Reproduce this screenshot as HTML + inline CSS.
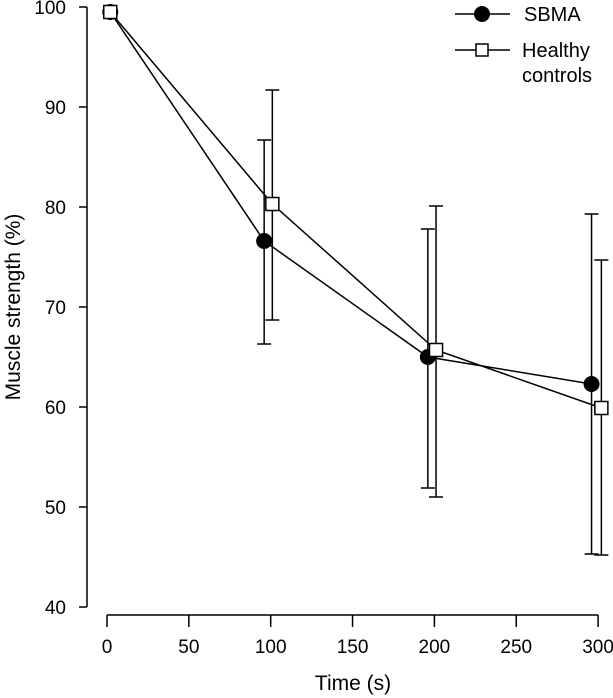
<!DOCTYPE html>
<html><head><meta charset="utf-8"><style>
body{margin:0;background:#fff}
svg{display:block;font-family:"Liberation Sans",Arial,sans-serif}
</style></head><body>
<svg id="chart" width="613" height="698" viewBox="0 0 613 698">
<g id="axes"></g><g id="series"></g>
<g>
 <g>
  <line x1="455" y1="14" x2="510" y2="14" stroke="#000" stroke-width="1.5"/>
  <circle cx="482" cy="14" r="8" fill="#000"/>
  <text x="524" y="21" font-size="20">SBMA</text>
 </g>
 <g>
  <line x1="455" y1="50" x2="510" y2="50" stroke="#000" stroke-width="1.5"/>
  <rect x="476" y="44" width="12" height="12" fill="#fff" stroke="#000" stroke-width="1.5"/>
  <text x="522" y="57" font-size="20">Healthy</text>
  <text x="522" y="82" font-size="20">controls</text>
 </g>
</g>
<text transform="translate(20,307) rotate(-90)" text-anchor="middle" font-size="21">Muscle strength (%)</text>
<text x="353" y="690" text-anchor="middle" font-size="21">Time (s)</text>
</svg>
<script>
const xTicks=[0,50,100,150,200,250,300];
const yTicks=[40,50,60,70,80,90,100];
const sbmaX=[2,96,196,296];
const sbmaY=[99.5,76.6,65.0,62.3];
const sbmaHi=[99.5,86.7,77.8,79.3];
const sbmaLo=[99.5,66.3,51.9,45.3];
const hcX=[2,101,201,302];
const hcY=[99.5,80.3,65.7,59.9];
const hcHi=[99.5,91.7,80.1,74.7];
const hcLo=[99.5,68.7,51.0,45.2];

const NS="http://www.w3.org/2000/svg";
const X=t=>107+t*1.637;
const Y=v=>7+(100-v)*10;
function mk(tag,attrs,parent){const e=document.createElementNS(NS,tag);for(const k in attrs)e.setAttribute(k,attrs[k]);parent.appendChild(e);return e;}
const axes=document.getElementById('axes'),ser=document.getElementById('series');
let a=mk('line',{x1:87,y1:Y(100),x2:87,y2:Y(40),stroke:'#000','stroke-width':1.5},axes);


yTicks.forEach(v=>{
 let l=mk('line',{x1:79,y1:Y(v),x2:87,y2:Y(v),stroke:'#000','stroke-width':1.5},axes);
 
 
 let t=mk('text',{x:66,y:Y(v)+7,'text-anchor':'end','font-size':19},axes);t.textContent=v;
 
 
});
let b=mk('line',{x1:X(0),y1:615,x2:X(300),y2:615,stroke:'#000','stroke-width':1.5},axes);


xTicks.forEach(v=>{
 let l=mk('line',{x1:X(v),y1:615,x2:X(v),y2:627,stroke:'#000','stroke-width':1.5},axes);
 
 
 let t=mk('text',{x:X(v),y:653,'text-anchor':'middle','font-size':19},axes);t.textContent=v;
 
 
});
function series(xs,ys,hi,lo,name){
 const g=mk('g',{},ser);
 
 
 xs.forEach((x,i)=>{
  if(hi[i]===lo[i])return;
  const e=mk('path',{d:`M${X(x)},${Y(hi[i])}V${Y(lo[i])}M${X(x)-7},${Y(hi[i])}h14M${X(x)-7},${Y(lo[i])}h14`,stroke:'#000','stroke-width':1.5,fill:'none'},g);
  
  
 });
 const p=mk('polyline',{points:xs.map((x,i)=>X(x)+','+Y(ys[i])).join(' '),fill:'none',stroke:'#000','stroke-width':1.5},g);
 
 
 return g;
}
const g1=series(sbmaX,sbmaY,sbmaHi,sbmaLo,'sbma');
const g2=series(hcX,hcY,hcHi,hcLo,'healthy');
sbmaX.forEach((x,i)=>{
 const c=mk('circle',{cx:X(x),cy:Y(sbmaY[i]),r:8,fill:'#000'},g1);
 
 
});
hcX.forEach((x,i)=>{
 const r=mk('rect',{x:X(x)-6.5,y:Y(hcY[i])-6.5,width:13,height:13,fill:'#fff',stroke:'#000','stroke-width':1.5},g2);
 
 
});
</script>
</body></html>
